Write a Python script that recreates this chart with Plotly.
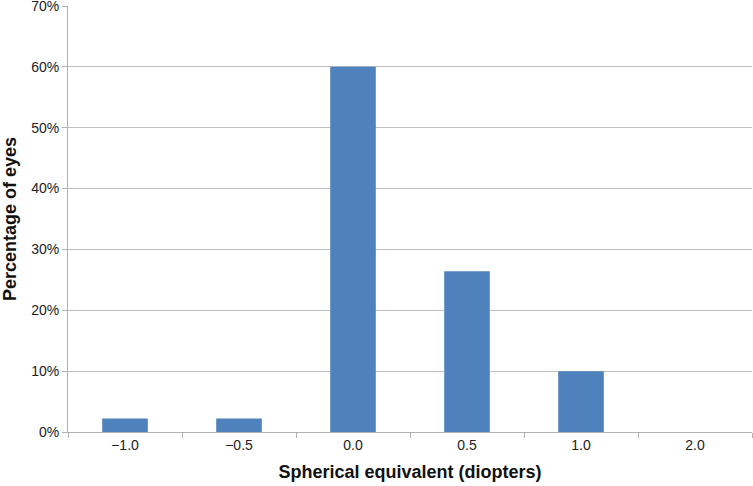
import plotly.graph_objects as go

categories = ["\u22121.0", "\u22120.5", "0.0", "0.5", "1.0", "2.0"]
percent_eyes = [2.2, 2.2, 60.0, 26.4, 10.0, 0.0]
y_ticks = [0, 10, 20, 30, 40, 50, 60, 70]
y_tick_labels = ["0%", "10%", "20%", "30%", "40%", "50%", "60%", "70%"]

fig = go.Figure()
fig.add_trace(go.Bar(x=categories, y=percent_eyes, marker_color="#4f81bd",
                     marker_line_width=0))

fig.update_layout(
    width=753, height=486,
    margin=dict(l=68, r=1, t=6, b=54),
    plot_bgcolor="white", paper_bgcolor="white",
    bargap=0.6, showlegend=False,
    font=dict(family="Liberation Sans, Arial", color="#222222", size=14),
    xaxis=dict(
        type="category", tickson="boundaries", ticks="outside", ticklen=5,
        tickcolor="#b0b0b0", showline=True, linecolor="#b0b0b0",
        showgrid=False, automargin=False,
        title=dict(text="<b>Spherical equivalent (diopters)</b>",
                   font=dict(size=18, color="#111111"), standoff=13),
    ),
    yaxis=dict(
        range=[0, 70], tickvals=y_ticks, ticktext=y_tick_labels,
        ticks="outside", ticklen=5, ticklabeloverflow="allow",
        tickcolor="#b0b0b0", showline=True, linecolor="#b0b0b0",
        gridcolor="#c0c0c0", zeroline=False, automargin=False,
        title=dict(text="<b>Percentage of eyes</b>",
                   font=dict(size=18, color="#111111"), standoff=12),
    ),
)

fig.write_html("out.html", config={"displayModeBar": False},
               post_script="document.body.style.margin='0';")
